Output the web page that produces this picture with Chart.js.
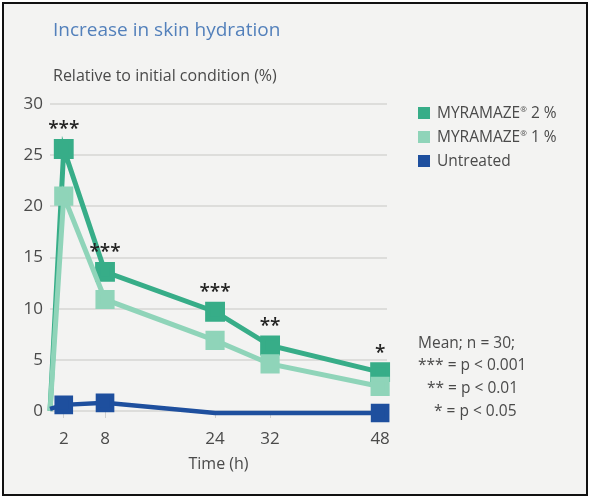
<!DOCTYPE html>
<html>
<head>
<meta charset="utf-8">
<script src="https://cdn.jsdelivr.net/npm/chart.js@4"></script>
<style>
  html, body { margin: 0; padding: 0; background: #fff; }
  body { width: 590px; height: 498px; position: relative; overflow: hidden; font-family: 'Open Sans', sans-serif; }
  #frame { position: absolute; left: 2px; top: 2px; width: 582px; height: 490px; border: 2px solid #111; background: #f3f3f2; }
  #wrap { position: absolute; left: 0; top: 0; width: 590px; height: 498px; }
  .txt { position: absolute; white-space: nowrap; color: #4a4a4a; }
  #title { left: 53px; top: 16px; font-size: 19px; color: #5380bb; }
  #ytitle { left: 53px; top: 64px; font-size: 16px; }
  .leg { position: absolute; left: 418px; font-size: 15.5px; color: #4a4a4a; white-space: nowrap; }
  .leg i { display: inline-block; width: 12px; height: 12px; margin-right: 7px; vertical-align: -1px; }
  .leg sup { font-size: 8px; vertical-align: 6px; }
  .note { position: absolute; font-size: 15.5px; color: #4a4a4a; white-space: nowrap; }
</style>
</head>
<body>
<div id="frame"></div>
<div id="wrap"><canvas id="chart" width="590" height="498"></canvas></div>
<div class="txt" id="title">Increase in skin hydration</div>
<div class="txt" id="ytitle">Relative to initial condition (%)</div>
<div class="leg" style="top:101px"><i style="background:#37ad88"></i>MYRAMAZE<sup>®</sup> 2 %</div>
<div class="leg" style="top:125px"><i style="background:#8fd4b9"></i>MYRAMAZE<sup>®</sup> 1 %</div>
<div class="leg" style="top:149px"><i style="background:#1e4f9e"></i>Untreated</div>
<div class="note" style="left:418px; top:331px">Mean; n = 30;</div>
<div class="note" style="left:418px; top:353px">*** = p &lt; 0.001</div>
<div class="note" style="left:427px; top:376px">** = p &lt; 0.01</div>
<div class="note" style="left:434px; top:399px">* = p &lt; 0.05</div>
<script>
// ===== Data =====
const hours = [0, 2, 8, 24, 32, 48];
const myramaze2 = [0, 25.6, 13.6, 9.7, 6.4, 3.8];
const myramaze1 = [0, 21.0, 10.9, 6.9, 4.6, 2.4];
const untreated = [0.2, 0.6, 0.8, -0.2, -0.2, -0.2];
const untreatedMarks = [false, true, true, false, false, true];
const xTicks = [2, 8, 24, 32, 48];
const yTicks = [0, 5, 10, 15, 20, 25, 30];
const starHours = [2, 8, 24, 32, 48];
const starLabels = ['***', '***', '***', '**', '*'];

const toPoints = (ys) => hours.map((h, i) => ({ x: h, y: ys[i] }));

// ===== Significance stars plugin =====
const starsPlugin = {
    id: 'stars',
    afterDatasetsDraw(chart) {
        const { ctx, scales } = chart;
        ctx.save();
        ctx.fillStyle = '#222';
        ctx.font = '600 19px "Open Sans"';
        ctx.textAlign = 'center';
        ctx.textBaseline = 'middle';
        starHours.forEach((h, i) => {
            const idx = hours.indexOf(h);
            const x = scales.x.getPixelForValue(h);
            const y = scales.y.getPixelForValue(myramaze2[idx]) - 19;
            ctx.fillText(starLabels[i], x, y);
        });
        ctx.restore();
    }
};

const green2 = '#37ad88';
const green1 = '#8fd4b9';
const blue = '#1e4f9e';

new Chart(document.getElementById('chart'), {
    type: 'line',
    data: {
        datasets: [
            {
                label: 'Untreated',
                data: toPoints(untreated),
                borderColor: blue,
                backgroundColor: blue,
                borderWidth: 4.5,
                pointStyle: 'rect',
                pointRadius: untreatedMarks.map(m => m ? 10 : 0),
                tension: 0,
                clip: false
            },
            {
                label: 'MYRAMAZE 1 %',
                data: toPoints(myramaze1),
                borderColor: green1,
                backgroundColor: green1,
                borderWidth: 5,
                pointStyle: 'rect',
                pointRadius: hours.map(h => h === 0 ? 0 : 10),
                tension: 0,
                clip: false
            },
            {
                label: 'MYRAMAZE 2 %',
                data: toPoints(myramaze2),
                borderColor: green2,
                backgroundColor: green2,
                borderWidth: 5,
                pointStyle: 'rect',
                pointRadius: hours.map(h => h === 0 ? 0 : 10.5),
                tension: 0,
                clip: false
            }
        ]
    },
    options: {
        responsive: false,
        animation: false,
        layout: { padding: { left: 0, top: 104, right: 203, bottom: 20 } },
        plugins: { legend: { display: false }, tooltip: { enabled: false } },
        scales: {
            x: {
                type: 'linear',
                min: 0,
                max: 49,
                afterBuildTicks: (s) => { s.ticks = xTicks.map(v => ({ value: v })); },
                afterFit: (s) => { s.height = 67; },
                border: { display: false },
                grid: { drawOnChartArea: false, drawTicks: true, tickLength: 7, color: '#cfcfcf' },
                ticks: { color: '#4a4a4a', font: { family: 'Open Sans', size: 17 }, padding: 11, autoSkip: false, maxRotation: 0 },
                title: { display: true, text: 'Time (h)', color: '#4a4a4a', font: { family: 'Open Sans', size: 16 }, padding: { top: 0 } }
            },
            y: {
                min: 0,
                max: 30,
                afterBuildTicks: (s) => { s.ticks = yTicks.map(v => ({ value: v })); },
                afterFit: (s) => { s.width = 50; },
                border: { display: false },
                grid: { color: '#dddddb', lineWidth: 2, drawTicks: false },
                ticks: { color: '#4a4a4a', font: { family: 'Open Sans', size: 17 }, padding: 7 }
            }
        }
    },
    plugins: [starsPlugin]
});
</script>
</body>
</html>
